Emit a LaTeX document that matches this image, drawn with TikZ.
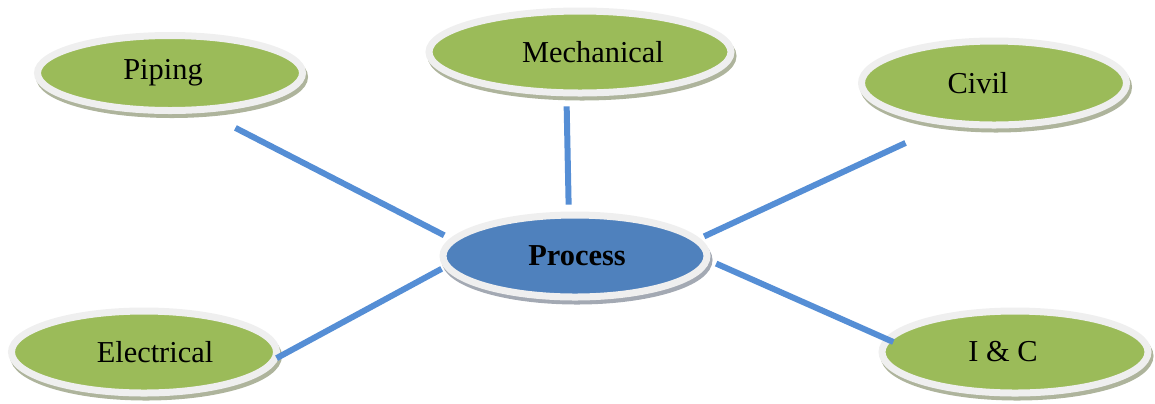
\documentclass[tikz,border=0pt]{standalone}
\usepackage{fontspec}
\setmainfont{Liberation Serif}
\usetikzlibrary{shapes.geometric}
\definecolor{leafgreen}{HTML}{9BBB59}
\definecolor{coreblue}{HTML}{4F81BD}
\definecolor{spoke}{HTML}{558ED5}
\definecolor{rim}{HTML}{EFEFEF}
\definecolor{leafshade}{HTML}{AEB49C}
\definecolor{coreshade}{HTML}{A3A9B3}

\begin{document}
\begin{tikzpicture}[
      x=0.5pt,y=-0.5pt,
      font=\fontsize{15.2}{18}\selectfont,
      blob/.style 2 args={ellipse,fill=#1,draw=rim,line width=3.5pt,inner sep=0pt,
        preaction={draw=#2,fill=#2,transform canvas={xshift=1pt,yshift=-2pt}}},
      leaf/.style={blob={leafgreen}{leafshade}},
      link/.style={spoke,line width=3pt}
    ]
    \useasboundingbox (0,0) rectangle (1155,403);

    % hub and the five disciplines round it
    \node[blob={coreblue}{coreshade},minimum width=132pt,minimum height=41pt] (process) at (575,256)
      {\hspace*{2pt}\textbf{Process}};
    \node[leaf,minimum width=132.5pt,minimum height=37.5pt] (piping) at (170,73)
      {Piping\hspace*{7pt}};
    \node[leaf,minimum width=151pt,minimum height=41pt] (mech) at (580,52)
      {\hspace*{13pt}Mechanical};
    \node[leaf,minimum width=132.5pt,minimum height=42pt] (civil) at (994,83)
      {Civil\hspace*{16pt}};
    \node[leaf,minimum width=132.5pt,minimum height=41pt] (elec) at (144,352)
      {\hspace*{11pt}Electrical};
    \node[leaf,minimum width=133pt,minimum height=41pt] (ic) at (1015,352)
      {I \& C\hspace*{12pt}};

    % spokes
    \draw[link,shorten <=16.75pt,shorten >=3.5pt] (piping.-48.5) -- (process.172.6);
    \draw[link,shorten <=5pt,shorten >=3.5pt] (mech.-107.7) -- (process.98.3);
    \draw[link,shorten <=21pt,shorten >=2.5pt] (civil.-140.8) -- (process.8);
    \draw[link,shorten <=-1.5pt,shorten >=1.4pt] (elec.-2.4) -- (process.185.8);
    \draw[link,shorten <=-4.5pt,shorten >=3.5pt] (ic.174.3) -- (process.-2.8);
  \end{tikzpicture}
\end{document}
